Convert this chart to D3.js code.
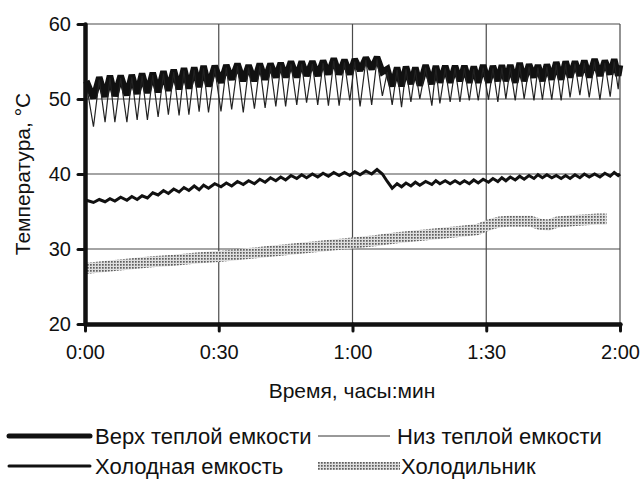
<!DOCTYPE html>
<html>
<head>
<meta charset="utf-8">
<script src="https://cdn.jsdelivr.net/npm/d3@7"></script>
<style>
  body { margin: 0; background: #fff; }
  svg text { font-family: "Liberation Sans", Arial, sans-serif; fill: #111; }
</style>
</head>
<body>
<div id="chart"></div>
<script>
// time of each peak (minutes), peak i comes just before dip i
const peakMin = [0.3, 3.2, 5.6, 8.0, 10.5, 12.8, 15.2, 17.6, 19.9, 22.2,
                 24.5, 26.6, 29.1, 31.7, 34.2, 36.7, 39.2, 41.6, 43.9, 46.2,
                 48.6, 51.0, 53.4, 55.8, 58.2, 60.5, 63.0, 65.5, 67.8, 70.0,
                 72.0, 74.1, 76.4, 78.7, 80.8, 83.0, 85.1, 87.2, 89.3, 91.5,
                 93.5, 95.4, 97.5, 99.6, 101.6, 103.6, 105.7, 107.8, 109.9, 112.0,
                 114.3, 116.6, 118.7, 120.0];
const dipMin = [1.9, 4.5, 6.7, 9.4, 11.7, 14.0, 16.4, 18.7, 21.1, 23.3,
                25.6, 27.7, 30.5, 32.9, 35.5, 38.0, 40.4, 42.8, 45.0, 47.5,
                49.7, 52.2, 54.6, 57.0, 59.4, 61.7, 64.3, 66.7, 68.9, 71.0,
                73.1, 75.1, 77.8, 79.6, 81.9, 84.1, 86.2, 88.2, 90.5, 92.6,
                94.4, 96.5, 98.5, 100.7, 102.6, 104.7, 106.8, 108.8, 111.0, 113.1,
                115.5, 117.8, 119.6];

// Верх теплой емкости
const topPeak = [52.4, 52.9, 53.1, 53.1, 53.2, 53.4, 53.5, 53.7, 53.9, 54.1,
                 54.2, 54.4, 54.4, 54.5, 54.7, 54.5, 54.7, 54.7, 54.8, 55.0,
                 55.0, 55.0, 55.1, 55.4, 55.2, 55.3, 55.5, 55.6, 54.0, 54.2,
                 54.3, 54.2, 54.5, 54.4, 54.4, 54.4, 54.4, 54.3, 54.5, 54.4,
                 54.5, 54.5, 54.8, 54.6, 54.5, 54.6, 54.9, 55.0, 55.0, 55.1,
                 55.3, 55.1, 55.3, 54.5];
const topDip = [50.1, 50.3, 50.4, 50.5, 50.7, 50.8, 50.9, 51.1, 51.3, 51.4,
                51.6, 51.7, 52.2, 52.6, 52.4, 52.4, 52.6, 52.9, 52.9, 52.9,
                53.1, 53.1, 53.3, 53.3, 53.3, 53.8, 54.0, 53.6, 51.7, 51.7,
                52.0, 51.8, 52.0, 52.2, 52.2, 52.4, 52.2, 52.2, 52.2, 52.4,
                52.4, 52.2, 52.4, 52.9, 52.4, 52.6, 52.6, 52.9, 53.1, 52.9,
                53.1, 53.3, 53.1];

// Низ теплой емкости
const lowPeak = [52.0, 52.6, 52.8, 52.8, 52.9, 53.1, 53.2, 53.4, 53.6, 53.8,
                 53.9, 54.1, 54.1, 54.2, 54.4, 54.2, 54.4, 54.4, 54.5, 54.7,
                 54.7, 54.7, 54.8, 55.1, 54.9, 55.0, 55.2, 55.3, 53.6, 53.9,
                 54.0, 53.9, 54.2, 54.1, 54.1, 54.1, 54.1, 54.0, 54.2, 54.1,
                 54.2, 54.2, 54.5, 54.3, 54.2, 54.3, 54.6, 54.7, 54.7, 54.8,
                 55.0, 54.8, 55.0, 54.2];
const lowDip = [46.3, 46.9, 46.9, 46.9, 47.2, 47.2, 47.6, 47.9, 47.8, 47.9,
                48.3, 48.2, 48.35, 48.6, 48.2, 48.7, 48.8, 49.0, 49.0, 49.2,
                49.5, 49.2, 49.1, 49.1, 49.8, 49.0, 49.2, 50.4, 49.2, 48.9,
                49.6, 50.0, 49.1, 49.4, 49.6, 49.6, 49.8, 49.8, 49.9, 49.6,
                50.0, 49.8, 50.0, 49.8, 49.9, 49.9, 49.8, 50.2, 50.5, 50.2,
                49.9, 50.3, 51.3];

// Холодная емкость
const coldPeak = [36.5, 36.6, 36.7, 36.9, 37.0, 37.1, 37.5, 37.8, 38.0, 38.2,
                  38.4, 38.5, 38.7, 38.8, 39.0, 39.1, 39.3, 39.5, 39.6, 39.8,
                  39.9, 40.0, 40.1, 40.2, 40.2, 40.3, 40.4, 40.6, 39.0, 38.7,
                  38.8, 38.9, 39.0, 39.1, 39.1, 39.1, 39.1, 39.2, 39.3, 39.4,
                  39.5, 39.6, 39.7, 39.8, 39.9, 39.9, 39.8, 39.8, 39.9, 40.0,
                  40.0, 40.1, 40.2, 40.0];
const coldDip = [36.2, 36.3, 36.4, 36.5, 36.6, 36.8, 37.2, 37.4, 37.6, 37.8,
                 37.9, 38.1, 38.3, 38.4, 38.6, 38.7, 38.9, 39.1, 39.2, 39.4,
                 39.5, 39.6, 39.7, 39.8, 39.8, 39.9, 40.0, 40.0, 38.1, 38.3,
                 38.4, 38.5, 38.6, 38.7, 38.7, 38.7, 38.7, 38.8, 38.9, 39.0,
                 39.1, 39.2, 39.3, 39.4, 39.5, 39.5, 39.4, 39.4, 39.5, 39.6,
                 39.6, 39.7, 39.8];

// Холодильник
const fridgeMin = [0, 5, 10, 15, 20, 25, 30, 35, 40, 45, 50, 55, 60, 65, 70,
                   75, 80, 85, 88, 91, 93, 95, 100, 102, 104, 106, 110, 115, 117];
const fridgeVal = [27.4, 27.7, 28.0, 28.3, 28.5, 28.8, 29.0, 29.3, 29.6, 29.9,
                   30.2, 30.5, 30.8, 31.1, 31.5, 31.8, 32.1, 32.4, 32.6, 33.3,
                   33.6, 33.7, 33.7, 33.3, 33.2, 33.6, 33.8, 34.0, 34.0];

const yTicks = [20, 30, 40, 50, 60];
const xTicks = [0, 30, 60, 90, 120];

// zig-zag series: peak, dip, peak, dip ...
function zig(peaks, dips) {
    const pts = [];
    peaks.forEach((p, i) => {
        pts.push([peakMin[i], p]);
        if (i < dips.length) pts.push([dipMin[i], dips[i]]);
    });
    return pts;
}

const width = 642, height = 479;
const svg = d3.select("#chart").append("svg")
    .attr("width", width)
    .attr("height", height);

const x = d3.scaleLinear().domain([0, 120]).range([85, 620]);
const y = d3.scaleLinear().domain([20, 60]).range([324, 24]);

const defs = svg.append("defs");
const pat = defs.append("pattern")
    .attr("id", "dots")
    .attr("patternUnits", "userSpaceOnUse")
    .attr("width", 3).attr("height", 3);
pat.append("rect").attr("width", 3).attr("height", 3).attr("fill", "#dedede");
pat.append("rect").attr("width", 1.7).attr("height", 1.7).attr("fill", "#5e5e5e");

// grid
svg.append("g")
    .selectAll("line")
    .data(yTicks.slice(1))
    .join("line")
    .attr("x1", x(0)).attr("x2", x(120))
    .attr("y1", d => y(d)).attr("y2", d => y(d))
    .attr("stroke", "#4a4a4a").attr("stroke-width", 1.2);
svg.append("g")
    .selectAll("line")
    .data(xTicks.slice(1))
    .join("line")
    .attr("x1", d => x(d)).attr("x2", d => x(d))
    .attr("y1", y(20)).attr("y2", y(60))
    .attr("stroke", "#4a4a4a").attr("stroke-width", 1.2);

const line = d3.line().x(d => x(d[0])).y(d => y(d[1]));

// Холодильник
svg.append("path")
    .datum(fridgeMin.map((t, i) => [t, fridgeVal[i]]))
    .attr("d", line)
    .attr("fill", "none")
    .attr("stroke", "url(#dots)")
    .attr("stroke-width", 11);

// Холодная емкость
svg.append("path")
    .datum(zig(coldPeak, coldDip))
    .attr("d", line)
    .attr("fill", "none")
    .attr("stroke", "#111")
    .attr("stroke-width", 3)
    .attr("stroke-miterlimit", 3);

// Верх теплой емкости
svg.append("path")
    .datum(zig(topPeak, topDip))
    .attr("d", line)
    .attr("fill", "none")
    .attr("stroke", "#111")
    .attr("stroke-width", 6.5)
    .attr("stroke-miterlimit", 2);

// Низ теплой емкости
svg.append("path")
    .datum(zig(lowPeak, lowDip))
    .attr("d", line)
    .attr("fill", "none")
    .attr("stroke", "#222")
    .attr("stroke-width", 1.2);

// axes
const fmt = d => `${Math.floor(d / 60)}:${String(d % 60).padStart(2, "0")}`;

const yAxis = svg.append("g")
    .attr("transform", `translate(${x(0)},0)`)
    .call(d3.axisLeft(y).tickValues(yTicks).tickSize(7).tickSizeOuter(0).tickPadding(7));
const xAxis = svg.append("g")
    .attr("transform", `translate(0,${y(20)})`)
    .call(d3.axisBottom(x).tickValues(xTicks).tickFormat(fmt).tickSize(7).tickSizeOuter(0).tickPadding(14));

[yAxis, xAxis].forEach(g => {
    g.select(".domain").attr("stroke", "#111").attr("stroke-width", 4.5).attr("stroke-linecap", "round");
    g.selectAll(".tick line").attr("stroke", "#111").attr("stroke-width", 3).attr("stroke-linecap", "round");
    g.selectAll(".tick text").attr("font-size", 20).attr("fill", "#111")
        .style("font-family", "'Liberation Sans', Arial, sans-serif");
});

svg.append("text")
    .attr("x", 352).attr("y", 398)
    .attr("text-anchor", "middle")
    .attr("font-size", 21)
    .text("Время, часы:мин");

svg.append("text")
    .attr("transform", "translate(30,174) rotate(-90)")
    .attr("text-anchor", "middle")
    .attr("font-size", 21)
    .text("Температура, °C");

// legend
const legend = svg.append("g");
legend.append("line").attr("x1", 9).attr("x2", 90).attr("y1", 436).attr("y2", 436)
    .attr("stroke", "#111").attr("stroke-width", 5).attr("stroke-linecap", "round");
legend.append("text").attr("x", 95).attr("y", 444).attr("font-size", 22).text("Верх теплой емкости");
legend.append("line").attr("x1", 318).attr("x2", 390).attr("y1", 436).attr("y2", 436)
    .attr("stroke", "#333").attr("stroke-width", 1);
legend.append("text").attr("x", 397).attr("y", 444).attr("font-size", 22).text("Низ теплой емкости");
legend.append("line").attr("x1", 9).attr("x2", 90).attr("y1", 466).attr("y2", 466)
    .attr("stroke", "#111").attr("stroke-width", 3).attr("stroke-linecap", "round");
legend.append("text").attr("x", 95).attr("y", 474).attr("font-size", 22).text("Холодная емкость");
legend.append("rect").attr("x", 318).attr("y", 462).attr("width", 82).attr("height", 8)
    .attr("fill", "url(#dots)");
legend.append("text").attr("x", 401).attr("y", 474).attr("font-size", 22).text("Холодильник");
</script>
</body>
</html>
